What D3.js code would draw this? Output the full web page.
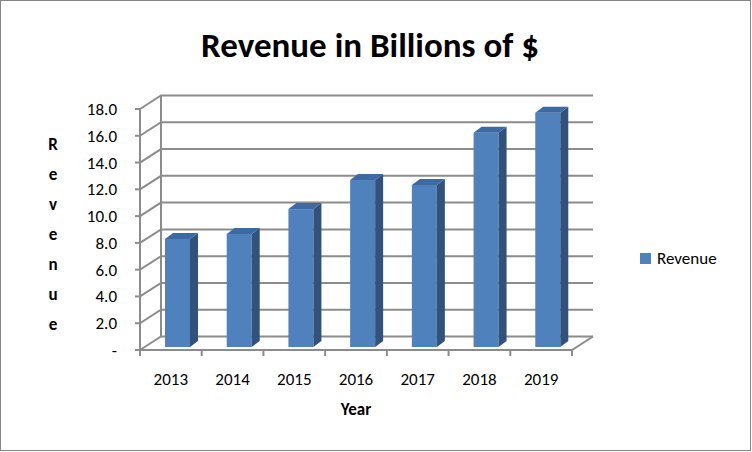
<!DOCTYPE html>
<html><head><meta charset="utf-8">
<script src="https://cdn.jsdelivr.net/npm/d3@7"></script>
<style>body{margin:0;background:#fff}svg{font-family:Calibri,Carlito,Lato,sans-serif}</style>
</head><body>
<script>
var years = ['2013','2014','2015','2016','2017','2018','2019'];
var revenue = [8.07, 8.44, 10.3, 12.47, 12.1, 16.0, 17.5];
var yTicks = [0, 2, 4, 6, 8, 10, 12, 14, 16, 18];

var svg = d3.select('body').append('svg').attr('width', 752).attr('height', 452);
svg.append('rect').attr('x', 0.5).attr('y', 0.5).attr('width', 750).attr('height', 450)
   .style('fill', '#fff').style('stroke', '#868686');

var x0 = 140, x1 = 572, dx = 21, dy = -13.5;
var x = d3.scaleBand().domain(years).range([x0, x1]);
var y = d3.scaleLinear().domain([0, 18]).range([350, 109]);
var grid = '#8c8c8c';

// gridlines + left wall
yTicks.forEach(function(t) {
    svg.append('path')
       .attr('d', 'M' + x0 + ',' + y(t) + 'L' + (x0 + dx) + ',' + (y(t) + dy) + 'L' + (x1 + dx) + ',' + (y(t) + dy))
       .style('fill', 'none').style('stroke', grid).style('stroke-width', 2);
    svg.append('line').attr('x1', x0 - 5).attr('x2', x0).attr('y1', y(t)).attr('y2', y(t))
       .style('stroke', grid).style('stroke-width', 2);
    svg.append('text').attr('x', 117).attr('y', y(t) + 6).attr('text-anchor', 'end')
       .style('font-size', '17px').text(t === 0 ? '-' : t.toFixed(1));
});
svg.append('line').attr('x1', x0).attr('x2', x0).attr('y1', y(0)).attr('y2', y(18))
   .style('stroke', grid).style('stroke-width', 2);
svg.append('line').attr('x1', x0 + dx).attr('x2', x0 + dx).attr('y1', y(0) + dy).attr('y2', y(18) + dy)
   .style('stroke', grid).style('stroke-width', 2);
// floor
svg.append('path')
   .attr('d', 'M' + x0 + ',' + y(0) + 'L' + x1 + ',' + y(0) + 'L' + (x1 + dx) + ',' + (y(0) + dy))
   .style('fill', 'none').style('stroke', grid).style('stroke-width', 2);

// category ticks and labels
x.domain().concat(['end']).forEach(function(c, i) {
    var px = x0 + i * x.bandwidth();
    svg.append('line').attr('x1', px).attr('x2', px).attr('y1', 350).attr('y2', 356)
       .style('stroke', grid).style('stroke-width', 2);
});
svg.selectAll('.yr').data(years).enter().append('text')
   .attr('x', function(d) { return x(d) + x.bandwidth() / 2; }).attr('y', 385)
   .attr('text-anchor', 'middle').style('font-size', '17px').text(function(d) { return d; });

// bars
var bw = 25, ox = 6, oy = -3, bdx = 8, bdy = -6;
var bars = svg.selectAll('.bar').data(revenue).enter().append('g');
bars.append('rect')
    .attr('x', function(d, i) { return x(years[i]) + 19 + ox; })
    .attr('y', function(d) { return y(d) + oy; })
    .attr('width', bw)
    .attr('height', function(d) { return y(0) - y(d); })
    .style('fill', '#4f81bd');
bars.append('path')
    .attr('d', function(d, i) {
        var l = x(years[i]) + 19 + ox, r = l + bw, t = y(d) + oy, b = y(0) + oy;
        return 'M' + r + ',' + t + 'L' + (r + bdx) + ',' + (t + bdy) + 'L' + (r + bdx) + ',' + (b + bdy) + 'L' + r + ',' + b + 'Z';
    }).style('fill', '#31527a');
bars.append('path')
    .attr('d', function(d, i) {
        var l = x(years[i]) + 19 + ox, r = l + bw, t = y(d) + oy;
        return 'M' + l + ',' + t + 'L' + (l + bdx) + ',' + (t + bdy) + 'L' + (r + bdx) + ',' + (t + bdy) + 'L' + r + ',' + t + 'Z';
    }).style('fill', '#3d6aa3');

// titles
svg.append('text').attr('x', 370).attr('y', 57).attr('text-anchor', 'middle')
   .style('font-size', '35px').style('font-weight', 'bold').text('Revenue in Billions of $');
svg.append('text').attr('x', 356).attr('y', 415).attr('text-anchor', 'middle')
   .style('font-size', '17px').style('font-weight', 'bold').text('Year');
'Revenue'.split('').forEach(function(ch, i) {
    svg.append('text').attr('x', 53).attr('y', 150 + i * 30).attr('text-anchor', 'middle')
       .style('font-size', '17px').style('font-weight', 'bold').text(ch);
});

// legend
svg.append('rect').attr('x', 640).attr('y', 253).attr('width', 11).attr('height', 11).style('fill', '#4f81bd');
svg.append('text').attr('x', 657).attr('y', 264).style('font-size', '17px').text('Revenue');
</script>
</body></html>
